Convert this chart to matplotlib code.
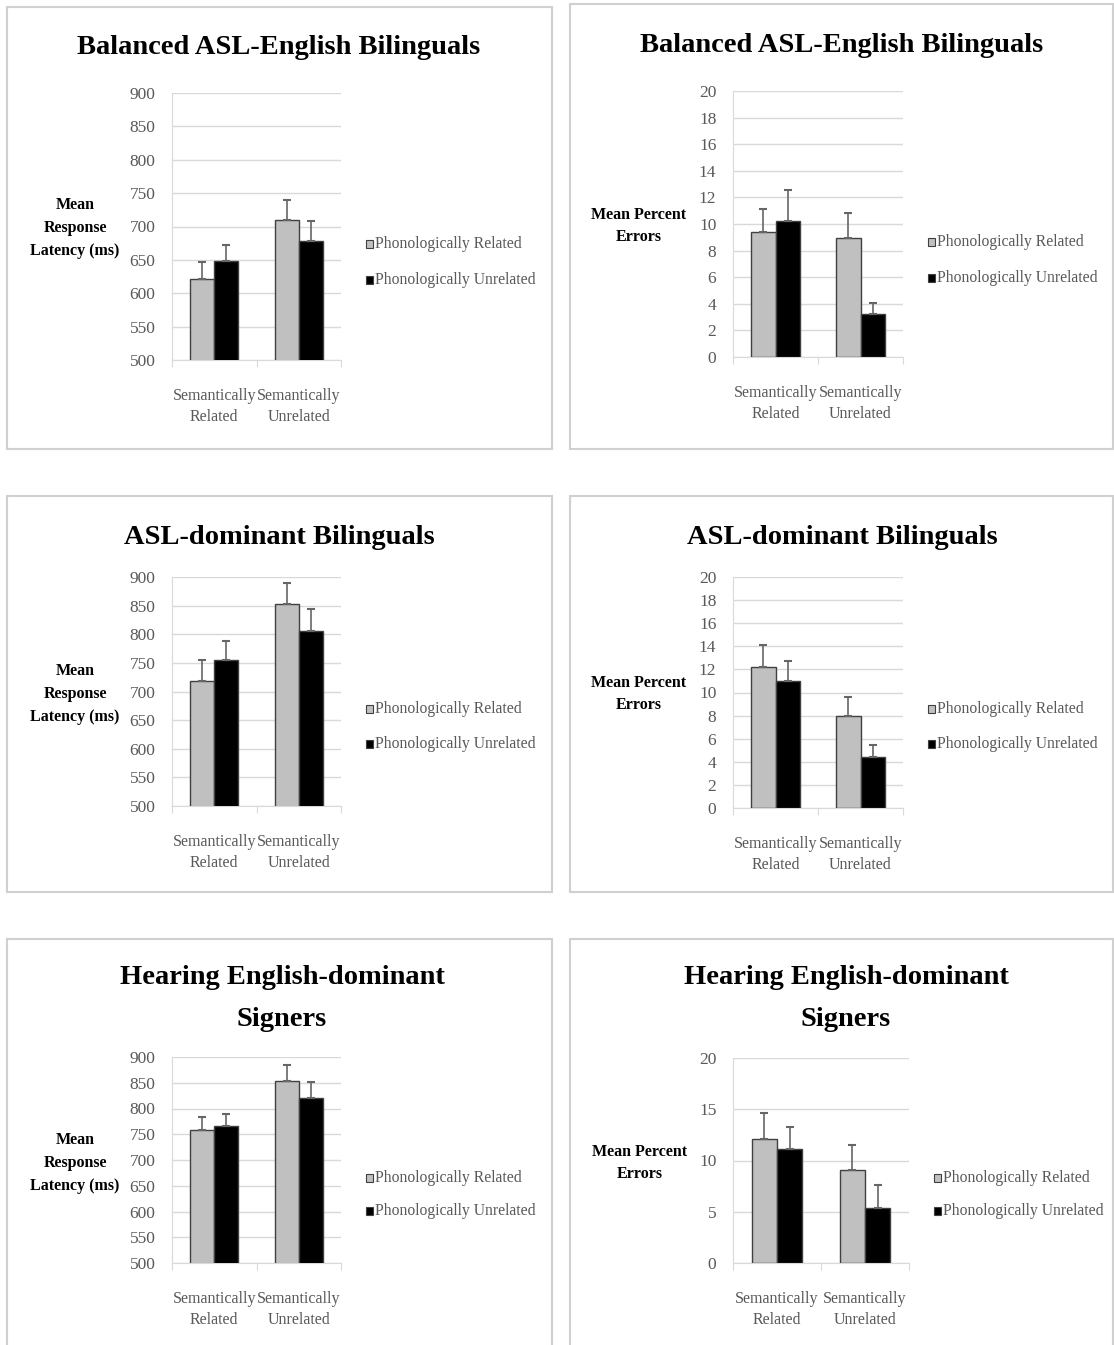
import numpy as np
import matplotlib
matplotlib.use("Agg")
import matplotlib.pyplot as plt
from matplotlib.patches import Rectangle

plt.rcParams['font.family'] = ['Liberation Serif', 'DejaVu Serif']

W, H = 1114, 1345

categories = ["Semantically\nRelated", "Semantically\nUnrelated"]
series_names = ["Phonologically Related", "Phonologically Unrelated"]

# response latencies (ms): [semantically related, semantically unrelated]
lat_balanced_rel = [621, 709]
lat_balanced_rel_err = [26, 30]
lat_balanced_unrel = [648, 678]
lat_balanced_unrel_err = [25, 30]

lat_asl_rel = [719, 853]
lat_asl_rel_err = [36, 37]
lat_asl_unrel = [755, 806]
lat_asl_unrel_err = [33, 38]

lat_hearing_rel = [758, 853]
lat_hearing_rel_err = [25, 32]
lat_hearing_unrel = [766, 820]
lat_hearing_unrel_err = [24, 31]

# percent errors
pct_balanced_rel = [9.4, 8.95]
pct_balanced_rel_err = [1.7, 1.85]
pct_balanced_unrel = [10.25, 3.25]
pct_balanced_unrel_err = [2.3, 0.8]

pct_asl_rel = [12.25, 8.0]
pct_asl_rel_err = [1.85, 1.6]
pct_asl_unrel = [11.0, 4.4]
pct_asl_unrel_err = [1.7, 1.05]

pct_hearing_rel = [12.1, 9.1]
pct_hearing_rel_err = [2.5, 2.4]
pct_hearing_unrel = [11.1, 5.4]
pct_hearing_unrel_err = [2.2, 2.2]

latency_ticks = np.arange(500, 901, 50)
pct_ticks_fine = np.arange(0, 21, 2)
pct_ticks_coarse = np.arange(0, 21, 5)

GRAY = "#c0c0c0"
TXT = "#595959"
GRID = "#d9d9d9"

fig = plt.figure(figsize=(W / 100, H / 100), dpi=100)


def fx(x):
    return x / W


def fy(y):
    return 1 - y / H


def add_border(x0, y0, x1, y1):
    fig.add_artist(Rectangle((fx(x0), fy(y1)), fx(x1 - x0), (y1 - y0) / H,
                             transform=fig.transFigure, fill=False,
                             edgecolor="#d0d0d0", lw=1.5))


def draw_panel(box, title, title_x, title_y, ylabel, ylabel_x, ylabel_y,
               rel, rel_err, unrel, unrel_err, ticks, leg_x, leg_y):
    x0, y0, x1, y1 = box
    ax = fig.add_axes([fx(x0), fy(y1), fx(x1 - x0), (y1 - y0) / H])
    x = np.arange(len(categories))
    w = 1 / 3.5
    ax.bar(x - w / 2, rel, w, color=GRAY, edgecolor="#404040", lw=1, zorder=3)
    ax.bar(x + w / 2, unrel, w, color="black", edgecolor="#404040", lw=1, zorder=3)
    ax.errorbar(x - w / 2, rel, yerr=[np.zeros(2), rel_err], fmt="none",
                ecolor="#666666", elinewidth=1.2, capsize=3, capthick=1.5, zorder=4)
    ax.errorbar(x + w / 2, unrel, yerr=[np.zeros(2), unrel_err], fmt="none",
                ecolor="#666666", elinewidth=1.2, capsize=3, capthick=1.5, zorder=4)
    ax.set_xlim(-0.5, 1.5)
    ax.set_ylim(ticks[0], ticks[-1])
    ax.set_yticks(ticks)
    ax.yaxis.grid(True, color=GRID, lw=1, zorder=0)
    for s in ["top", "right"]:
        ax.spines[s].set_visible(False)
    for s in ["left", "bottom"]:
        ax.spines[s].set_color(GRID)
    ax.set_xticks([-0.5, 0.5, 1.5])
    ax.set_xticklabels([])
    ax.set_xticks(x, minor=True)
    ax.set_xticklabels(categories, minor=True, fontsize=11.5, color=TXT,
                       linespacing=1.45)
    ax.tick_params(axis="x", which="major", length=5, color=GRID, direction="out")
    ax.tick_params(axis="x", which="minor", length=0, pad=20)
    ax.tick_params(axis="y", length=0, labelsize=12.5, labelcolor=TXT, pad=12)

    for line_y, t in zip(title_y, title.split("\n")):
        fig.text(fx(title_x), fy(line_y), t, ha="center", va="center",
                 fontsize=20.5, fontweight="bold")
    fig.text(fx(ylabel_x), fy(ylabel_y), ylabel, ha="center", va="center",
             fontsize=11.5, fontweight="bold", linespacing=1.55)

    for ly, name, c in zip(leg_y, series_names, [GRAY, "black"]):
        fig.add_artist(Rectangle((fx(leg_x), fy(ly + 4)), fx(7), 8 / H,
                                 transform=fig.transFigure, facecolor=c,
                                 edgecolor="#404040", lw=0.8))
        fig.text(fx(leg_x + 9), fy(ly), name, ha="left", va="center",
                 fontsize=11.3, color=TXT)
    return ax


# panel frames
add_border(7, 7, 552, 449)
add_border(570, 4, 1113, 449)
add_border(7, 496, 552, 892)
add_border(570, 496, 1113, 892)
add_border(7, 939, 552, 1350)
add_border(570, 939, 1113, 1350)

lat_label = "Mean\nResponse\nLatency (ms)"
pct_label = "Mean Percent\nErrors"

draw_panel((172, 93, 341, 360), "Balanced ASL-English Bilinguals", 279, [48],
           lat_label, 75, 228, lat_balanced_rel, lat_balanced_rel_err,
           lat_balanced_unrel, lat_balanced_unrel_err, latency_ticks, 366, [244, 280])
draw_panel((733, 91, 903, 357), "Balanced ASL-English Bilinguals", 842, [46],
           pct_label, 639, 226, pct_balanced_rel, pct_balanced_rel_err,
           pct_balanced_unrel, pct_balanced_unrel_err, pct_ticks_fine, 928, [242, 278])

draw_panel((172, 577, 341, 806), "ASL-dominant Bilinguals", 279, [537],
           lat_label, 75, 694, lat_asl_rel, lat_asl_rel_err,
           lat_asl_unrel, lat_asl_unrel_err, latency_ticks, 366, [709, 744])
draw_panel((733, 577, 903, 808), "ASL-dominant Bilinguals", 842, [537],
           pct_label, 639, 694, pct_asl_rel, pct_asl_rel_err,
           pct_asl_unrel, pct_asl_unrel_err, pct_ticks_fine, 928, [709, 744])

draw_panel((172, 1057, 341, 1263), "Hearing English-dominant\nSigners", 282, [978, 1020],
           lat_label, 75, 1163, lat_hearing_rel, lat_hearing_rel_err,
           lat_hearing_unrel, lat_hearing_unrel_err, latency_ticks, 366, [1178, 1211])
draw_panel((733, 1058, 909, 1263), "Hearing English-dominant\nSigners", 846, [978, 1020],
           pct_label, 640, 1163, pct_hearing_rel, pct_hearing_rel_err,
           pct_hearing_unrel, pct_hearing_unrel_err, pct_ticks_coarse, 934, [1178, 1211])

fig.savefig("out.png", dpi=100)
